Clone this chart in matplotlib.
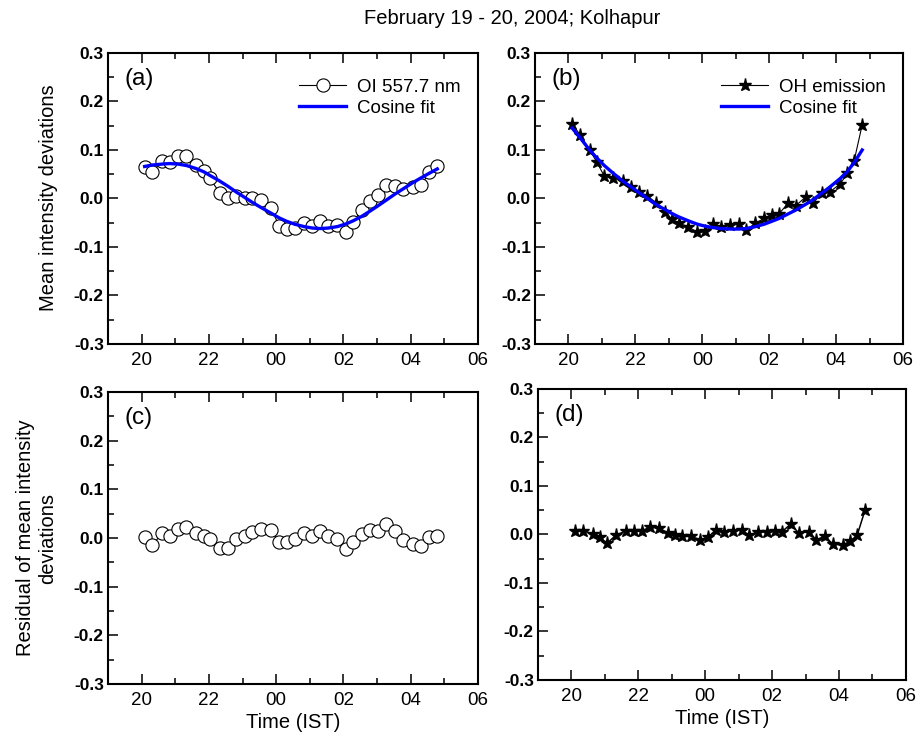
import numpy as np
import matplotlib
matplotlib.use("Agg")
import matplotlib.pyplot as plt
from matplotlib.ticker import MultipleLocator, FixedLocator, FixedFormatter

plt.rcParams["font.family"] = ["Liberation Sans", "DejaVu Sans"]

# time in hours (00 = 24, 02 = 26 ...)
t_oi = [20.09, 20.32, 20.62, 20.83, 21.08, 21.33, 21.61, 21.85, 22.02, 22.32,
        22.57, 22.82, 23.07, 23.29, 23.56, 23.84, 24.09, 24.31, 24.55, 24.83,
        25.08, 25.30, 25.54, 25.82, 26.09, 26.29, 26.54, 26.79, 27.03, 27.28,
        27.53, 27.78, 28.07, 28.32, 28.55, 28.79]
oi = [0.064, 0.055, 0.078, 0.076, 0.087, 0.088, 0.070, 0.056, 0.042, 0.012,
      0.002, 0.006, 0.002, 0.002, -0.004, -0.020, -0.056, -0.062, -0.060, -0.051,
      -0.057, -0.047, -0.056, -0.055, -0.070, -0.049, -0.023, -0.006, 0.008, 0.028,
      0.025, 0.020, 0.024, 0.028, 0.054, 0.066]
oi_fit = [0.066, 0.069, 0.071, 0.072, 0.071, 0.068, 0.062, 0.055, 0.048, 0.036,
          0.025, 0.013, 0.002, -0.008, -0.019, -0.030, -0.040, -0.047, -0.053, -0.058,
          -0.061, -0.062, -0.061, -0.058, -0.052, -0.046, -0.037, -0.026, -0.015, -0.003,
          0.009, 0.020, 0.033, 0.043, 0.052, 0.061]
oi_resid = [0.002, -0.015, 0.011, 0.004, 0.019, 0.023, 0.011, 0.004, -0.003, -0.020,
            -0.020, -0.002, 0.004, 0.012, 0.019, 0.016, -0.009, -0.009, -0.002, 0.011,
            0.005, 0.014, 0.005, -0.002, -0.022, -0.009, 0.009, 0.016, 0.014, 0.028,
            0.014, -0.005, -0.013, -0.017, 0.002, 0.004]

t_oh = [20.11, 20.35, 20.63, 20.84, 21.07, 21.32, 21.64, 21.87, 22.11, 22.36,
        22.63, 22.89, 23.09, 23.30, 23.58, 23.85, 24.08, 24.32, 24.57, 24.84,
        25.09, 25.31, 25.59, 25.85, 26.08, 26.30, 26.56, 26.79, 27.09, 27.32,
        27.57, 27.82, 28.12, 28.34, 28.54, 28.78]
oh = [0.154, 0.131, 0.100, 0.076, 0.046, 0.042, 0.037, 0.023, 0.014, 0.005,
      -0.009, -0.027, -0.043, -0.051, -0.058, -0.070, -0.068, -0.053, -0.058, -0.055,
      -0.053, -0.065, -0.051, -0.041, -0.034, -0.031, -0.010, -0.015, 0.003, -0.009,
      0.011, 0.014, 0.030, 0.052, 0.078, 0.152]
oh_fit = [0.145, 0.125, 0.100, 0.084, 0.068, 0.053, 0.035, 0.024, 0.012, 0.000,
          -0.013, -0.023, -0.031, -0.038, -0.046, -0.053, -0.057, -0.060, -0.062, -0.063,
          -0.063, -0.062, -0.058, -0.053, -0.047, -0.041, -0.032, -0.024, -0.012, -0.002,
          0.011, 0.024, 0.041, 0.056, 0.074, 0.100]
oh_resid = [0.008, 0.008, 0.001, -0.006, -0.018, -0.002, 0.008, 0.008, 0.008, 0.015,
            0.013, 0.003, -0.002, -0.004, -0.004, -0.011, -0.006, 0.010, 0.006, 0.008,
            0.010, -0.002, 0.006, 0.006, 0.008, 0.006, 0.022, 0.003, 0.006, -0.011,
            -0.004, -0.020, -0.022, -0.013, -0.002, 0.051]

xticks = [20, 22, 24, 26, 28, 30]
xticklabels = ["20", "22", "00", "02", "04", "06"]

fig = plt.figure(figsize=(9.19, 7.38), dpi=100)
ax_a = fig.add_axes([0.1175, 0.5339, 0.4026, 0.3943])
ax_b = fig.add_axes([0.5822, 0.5339, 0.4004, 0.3943])
ax_c = fig.add_axes([0.1175, 0.0732, 0.4026, 0.3957])
ax_d = fig.add_axes([0.5854, 0.0786, 0.4004, 0.3943])

for ax, lab in zip([ax_a, ax_b, ax_c, ax_d], ["(a)", "(b)", "(c)", "(d)"]):
    ax.set_xlim(19, 30)
    ax.set_ylim(-0.3, 0.3)
    ax.xaxis.set_major_locator(FixedLocator(xticks))
    ax.xaxis.set_major_formatter(FixedFormatter(xticklabels))
    ax.xaxis.set_minor_locator(MultipleLocator(1))
    ax.yaxis.set_major_locator(MultipleLocator(0.1))
    ax.yaxis.set_minor_locator(MultipleLocator(0.05))
    ax.yaxis.set_major_formatter(matplotlib.ticker.FormatStrFormatter("%.1f"))
    ax.tick_params(which="both", direction="in", width=1.1, top=True, right=False)
    ax.tick_params(which="major", length=7, pad=6)
    ax.tick_params(which="minor", length=4)
    ax.tick_params(axis="x", which="major", labelsize=13.5)
    ax.tick_params(axis="y", which="major", labelsize=12.5, pad=3)
    for lbl in ax.get_yticklabels():
        lbl.set_fontweight("bold")
    for s in ax.spines.values():
        s.set_linewidth(1.5)
    ax.text(0.045, 0.91, lab, transform=ax.transAxes, fontsize=17.5, va="center")

# (a)
ax_a.plot(t_oi, oi, "-", color="black", lw=0.8, marker="o", ms=9.5,
          mfc="white", mec="black", mew=0.8, label="OI 557.7 nm")
ax_a.plot(t_oi, oi_fit, "-", color="blue", lw=2.4, label="Cosine fit")
ax_a.legend(loc="upper right", bbox_to_anchor=(1.0, 0.97), frameon=False,
            fontsize=13.5, handlelength=2.5, handletextpad=0.6, labelspacing=0.2)

# (b)
ax_b.plot(t_oh, oh, "-", color="black", lw=0.8, marker="*", ms=9.5,
          mfc="black", mec="black", label="OH emission")
ax_b.plot(t_oh, oh_fit, "-", color="blue", lw=2.4, label="Cosine fit")
ax_b.legend(loc="upper right", bbox_to_anchor=(1.0, 0.97), frameon=False,
            fontsize=13.5, handlelength=2.5, handletextpad=0.6, labelspacing=0.2)

# (c)
ax_c.plot(t_oi, oi_resid, "-", color="black", lw=0.8, marker="o", ms=9.5,
          mfc="white", mec="black", mew=0.8)

# (d)
ax_d.plot(t_oh, oh_resid, "-", color="black", lw=1.1, marker="*", ms=9.5,
          mfc="black", mec="black")

ax_c.set_xlabel("Time (IST)", fontsize=14.5, labelpad=3)
ax_d.set_xlabel("Time (IST)", fontsize=14.5, labelpad=3)

fig.text(49 / 919, 1 - 198 / 738, "Mean intensity deviations", rotation=90,
         ha="center", va="center", fontsize=14.5)
fig.text(37 / 919, 1 - 538 / 738, "Residual of mean intensity\ndeviations",
         rotation=90, ha="center", va="center", fontsize=14.5, multialignment="center")
fig.text(512 / 919, 1 - 19 / 738, "February 19 - 20, 2004; Kolhapur",
         ha="center", va="center", fontsize=14.5)

fig.savefig("out.png", dpi=100)
plt.close(fig)
